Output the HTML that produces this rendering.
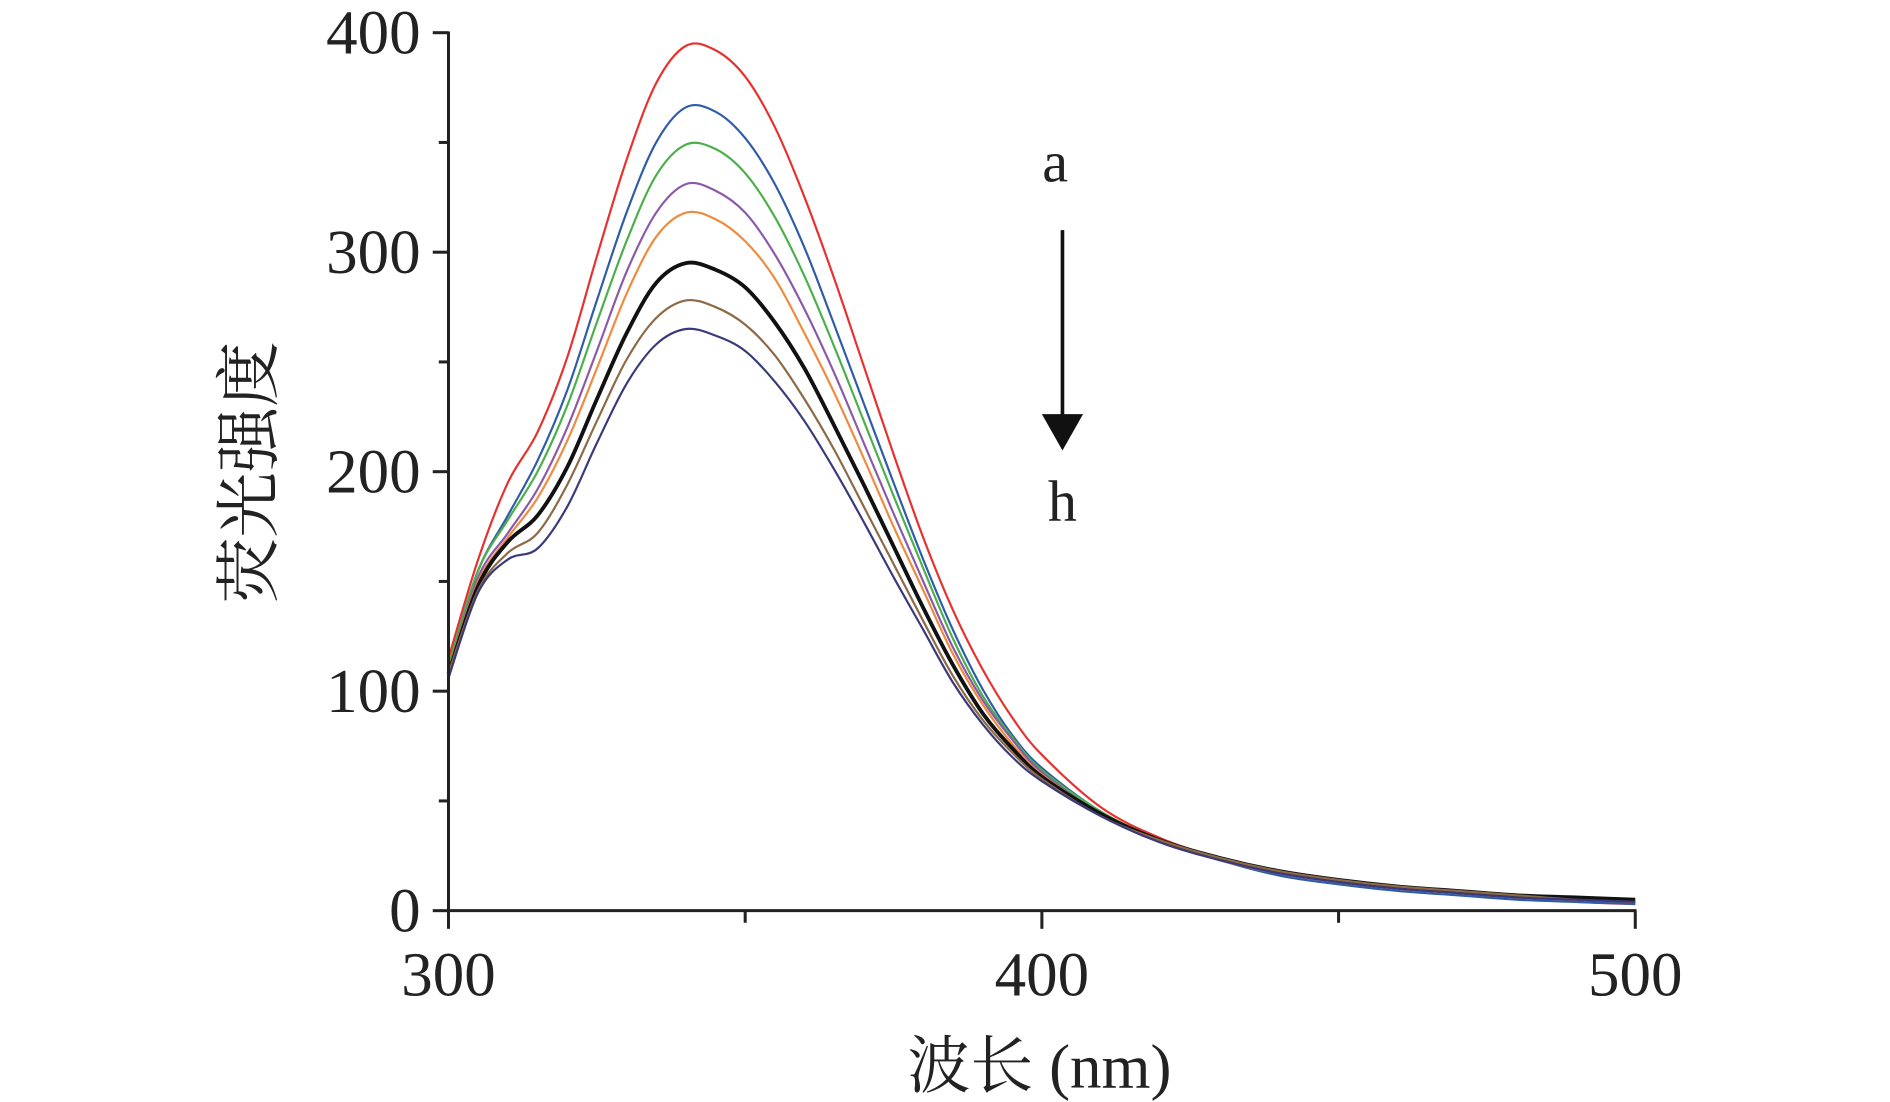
<!DOCTYPE html>
<html><head><meta charset="utf-8"><style>
html,body{margin:0;padding:0;background:#fff;}
svg{display:block;}
text{font-family:"Liberation Serif","Noto Serif CJK SC",serif;fill:#222;}
</style></head><body>
<svg id="chart" width="1890" height="1102" viewBox="0 0 1560 910" xmlns="http://www.w3.org/2000/svg">
<g id="series"></g>
<g id="axes"></g>
<text transform="translate(224,390) rotate(-90)" text-anchor="middle" font-size="54">荧光强度</text>
<text x="858" y="898" text-anchor="middle" font-size="52">波长 (nm)</text>
<text x="871" y="150" text-anchor="middle" font-size="48">a</text>
<text x="877" y="430" text-anchor="middle" font-size="48">h</text>
<line x1="877" y1="190" x2="877" y2="345" stroke="#111" stroke-width="3"/>
<polygon points="860,342 894,342 877,372" fill="#111"/>
</svg>
<script>
const wavelengths=[300,305,310,315,320,325,330,335,340,345,350,355,360,365,370,375,380,385,390,395,400,410,420,430,440,450,460,470,480,490,500];
const seriesA=[115,160,195,218,252,298,342,377,394,392,380,357,325,288,248,208,170,137,110,88,71,47,33,24,17,13,10,8,6,4,3];
const seriesB=[112,155,180,205,237,278,318,350,366,364,352,331,302,267,231,195,160,128,101,80,65,45,32,23,16,12,9,7,5,4,3];
const seriesC=[112,155,178,200,230,268,305,335,349,347,336,316,289,257,223,189,156,124,98,79,64,45,32,23,17,13,10,8,6,5,4];
const seriesD=[110,152,172,192,220,255,291,318,331,328,318,299,274,245,213,181,150,120,96,78,63,44,32,23,17,13,10,8,6,5,4];
const seriesE=[110,150,170,188,214,247,281,307,318,315,305,288,263,236,206,175,146,117,94,76,62,44,32,23,17,13,10,8,6,5,4];
const seriesF=[108,148,168,180,202,233,263,286,295,292,284,268,247,221,194,166,138,112,90,74,61,44,32,24,18,14,11,9,7,6,5];
const seriesG=[108,146,163,172,194,223,251,270,278,275,267,253,233,210,184,158,132,107,87,72,60,43,32,24,18,14,11,9,7,5,4];
const seriesH=[106,145,160,165,184,213,240,258,265,262,255,241,223,201,177,152,128,104,85,70,59,43,31,23,17,13,10,8,6,5,4];
const seriesNames=['a','b','c','d','e','f','g','h'];
const xTicks=[300,400,500];
const xMinor=[350,450];
const yTicks=[0,100,200,300,400];
const yMinor=[50,150,250,350];

const allSeries=[seriesA,seriesB,seriesC,seriesD,seriesE,seriesF,seriesG,seriesH];
const colors=['#e8312e','#2f5ca8','#4bb04a','#8a5aa8','#f08a3c','#111111','#8b6a45','#3a3a7a'];
const NS='http://www.w3.org/2000/svg';
const X=v=>370+(v-300)*4.9;
const Y=v=>752-v*1.8125;
const sg=document.getElementById('series');
allSeries.forEach((s,i)=>{
  const pts=s.map((v,j)=>[X(wavelengths[j]),Y(v)]);
  let d='M'+pts[0][0]+','+pts[0][1];
  for(let k=0;k<pts.length-1;k++){
    const p0=pts[Math.max(0,k-1)],p1=pts[k],p2=pts[k+1],p3=pts[Math.min(pts.length-1,k+2)];
    const c1x=p1[0]+(p2[0]-p0[0])/6,c1y=p1[1]+(p2[1]-p0[1])/6;
    const c2x=p2[0]-(p3[0]-p1[0])/6,c2y=p2[1]-(p3[1]-p1[1])/6;
    d+=` C${c1x},${c1y} ${c2x},${c2y} ${p2[0]},${p2[1]}`;
  }
  const p=document.createElementNS(NS,'path');
  p.setAttribute('d',d);
  p.setAttribute('fill','none');
  p.setAttribute('stroke',colors[i]);
  p.setAttribute('stroke-width',i===5?3.2:1.8);
  
  
  sg.appendChild(p);
});
const ag=document.getElementById('axes');
function line(x1,y1,x2,y2,w,name){
  const l=document.createElementNS(NS,'line');
  l.setAttribute('x1',x1);l.setAttribute('y1',y1);l.setAttribute('x2',x2);l.setAttribute('y2',y2);
  l.setAttribute('stroke','#222');l.setAttribute('stroke-width',w);
  
  
  ag.appendChild(l);
}
function text(x,y,t,anchor,name){
  const e=document.createElementNS(NS,'text');
  e.setAttribute('x',x);e.setAttribute('y',y);e.setAttribute('text-anchor',anchor);e.setAttribute('font-size','52');
  e.textContent=t;
  
  
  ag.appendChild(e);
}
line(370,Y(400)-1,370,753,2.5,'y-axis-line');
line(369,752,1351,752,2.5,'x-axis-line');
yTicks.forEach(v=>{line(357,Y(v),370,Y(v),2.5,'y-tick');text(347,Y(v)+17,String(v),'end','y-tick-label');});
yMinor.forEach(v=>{line(362,Y(v),370,Y(v),2.5,'y-minor-tick');});
xTicks.forEach(v=>{line(X(v),752,X(v),767,2.5,'x-tick');text(X(v),822,String(v),'middle','x-tick-label');});
xMinor.forEach(v=>{line(X(v),752,X(v),762,2.5,'x-minor-tick');});
</script>
</body></html>
